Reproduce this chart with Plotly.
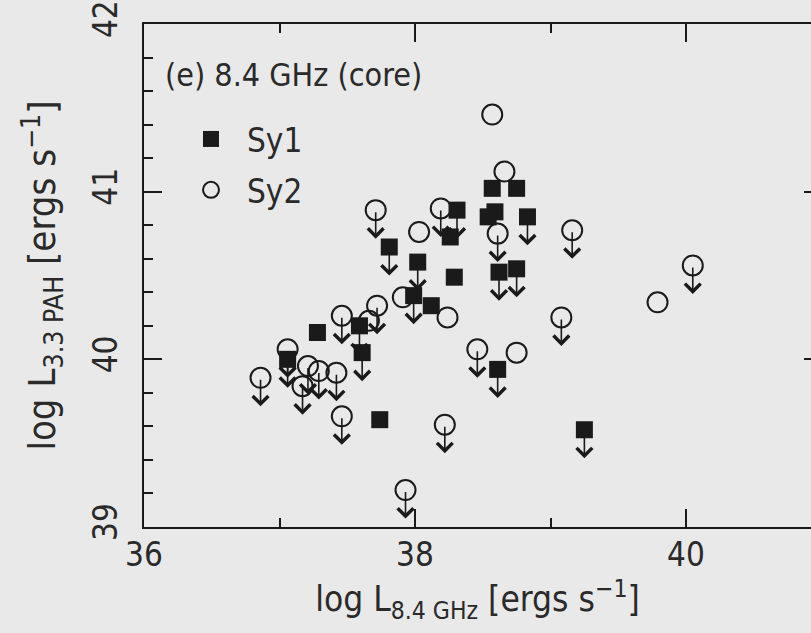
import plotly.graph_objects as go

# ---- data ----
sy1_x = [37.06, 37.28, 37.59, 37.61, 37.74, 37.81, 38.02, 37.99, 38.12, 38.31, 38.26,
         38.29, 38.57, 38.75, 38.59, 38.54, 38.83, 38.62, 38.75, 38.61, 39.25]
sy1_y = [40.00, 40.16, 40.20, 40.04, 39.64, 40.67, 40.58, 40.38, 40.32, 40.89, 40.73,
         40.49, 41.02, 41.02, 40.88, 40.85, 40.85, 40.52, 40.54, 39.94, 39.58]
sy1_upper = [1, 0, 1, 1, 0, 1, 1, 1, 0, 1, 0,
             0, 0, 0, 0, 0, 1, 1, 1, 1, 1]

sy2_x = [36.86, 37.06, 37.21, 37.29, 37.17, 37.42, 37.46, 37.72, 37.66, 37.46, 38.22,
         37.93, 37.71, 38.03, 38.19, 37.91, 38.24, 38.57, 38.66, 38.61, 38.46, 38.75,
         39.16, 39.08, 39.79, 40.05]
sy2_y = [39.89, 40.06, 39.96, 39.93, 39.84, 39.92, 40.26, 40.32, 40.23, 39.66, 39.61,
         39.22, 40.89, 40.76, 40.90, 40.37, 40.25, 41.46, 41.12, 40.75, 40.06, 40.04,
         40.77, 40.25, 40.34, 40.56]
sy2_upper = [1, 1, 1, 1, 1, 1, 1, 1, 0, 1, 1,
             1, 1, 0, 1, 0, 0, 0, 0, 1, 1, 0,
             1, 1, 0, 1]

x_range = [36, 40.9225]
y_range = [38.9998, 42.0004]
x_tickvals = [36, 38, 40]
y_tickvals = [39, 40, 41, 42]

panel_label = "(e) 8.4 GHz (core)"
x_title = "log L<sub>8.4 GHz</sub> [ergs s<sup>\u22121</sup>]"
y_title = "log L<sub>3.3 PAH</sub> [ergs s<sup>\u22121</sup>]"

# ---- style ----
FONT = "Liberation Sans Narrow, DejaVu Sans Condensed, Liberation Sans, sans-serif"
INK = "#1a1a1a"
TXT = "#2a2a2a"
BG = "#e9e9e9"
ARROW_DEX = 0.17

fig = go.Figure()

fig.add_trace(go.Scatter(
    x=sy2_x, y=sy2_y, mode="markers", name="Sy2", legendgroup="b", legendrank=2,
    marker=dict(symbol="circle-open", size=20, color=INK, line=dict(width=2, color=INK)),
))
fig.add_trace(go.Scatter(
    x=sy1_x, y=sy1_y, mode="markers", name="Sy1", legendgroup="a", legendrank=1,
    marker=dict(symbol="square", size=17, color=INK, line=dict(width=0)),
))
# empty trace so the right-hand tick axis is rendered
fig.add_trace(go.Scatter(x=[], y=[], yaxis="y2", showlegend=False, hoverinfo="skip"))

annotations = []
for xs, ys, ul in ((sy2_x, sy2_y, sy2_upper), (sy1_x, sy1_y, sy1_upper)):
    for xv, yv, u in zip(xs, ys, ul):
        if u:
            annotations.append(dict(
                x=xv, y=yv - ARROW_DEX, xref="x", yref="y", text="",
                showarrow=True, ax=0, ay=-28, axref="pixel", ayref="pixel",
                arrowhead=4, arrowsize=1.9, arrowwidth=1.6, arrowcolor=INK,
                standoff=0, startstandoff=0,
            ))

annotations.append(dict(
    x=(163 - 144) / 667, y=(527 - 75) / 503, xref="paper", yref="paper",
    text=panel_label, showarrow=False, xanchor="left", yanchor="middle",
    font=dict(family=FONT, size=32, color=TXT),
))

fig.update_layout(
    width=811, height=633,
    margin=dict(l=144, r=0, t=24, b=106, pad=0),
    paper_bgcolor=BG, plot_bgcolor=BG,
    font=dict(family=FONT, size=33, color=TXT),
    showlegend=True,
    legend=dict(
        x=(175 - 144) / 667, y=(527 - 111) / 503, xanchor="left", yanchor="top",
        bgcolor="rgba(0,0,0,0)", traceorder="grouped",
        tracegroupgap=5,
        font=dict(family=FONT, size=33, color=TXT),
        itemwidth=62,
    ),
    annotations=annotations,
    xaxis=dict(
        range=x_range, tickvals=x_tickvals, ticktext=[str(v) for v in x_tickvals],
        ticks="inside", ticklen=18, tickwidth=2, tickcolor=INK,
        minor=dict(dtick=1, tick0=36, ticks="inside", ticklen=9, tickwidth=2, tickcolor=INK),
        showline=True, linecolor=INK, linewidth=2, mirror="ticks",
        showgrid=False, zeroline=False,
        ticklabelstandoff=-3,
        tickfont=dict(family=FONT, size=33, color=TXT),
        title=dict(text=x_title, standoff=3, font=dict(family=FONT, size=35, color=TXT)),
    ),
    yaxis=dict(
        range=y_range, tickvals=y_tickvals, ticktext=[str(v) for v in y_tickvals],
        ticks="inside", ticklen=18, tickwidth=2, tickcolor=INK,
        minor=dict(dtick=0.2, tick0=39, ticks="inside", ticklen=9, tickwidth=2, tickcolor=INK),
        showline=True, linecolor=INK, linewidth=2, mirror=False,
        showgrid=False, zeroline=False,
        tickangle=-90, ticklabelstandoff=12,
        tickfont=dict(family=FONT, size=33, color=TXT),
        title=dict(text=y_title, standoff=18, font=dict(family=FONT, size=38, color=TXT)),
    ),
    yaxis2=dict(
        range=y_range, overlaying="y", side="right", anchor="x",
        tickvals=y_tickvals, ticks="inside", ticklen=7, tickwidth=2, tickcolor=INK,
        showticklabels=False, showline=False, showgrid=False, zeroline=False,
    ),
)

fig.write_html("out.html")
